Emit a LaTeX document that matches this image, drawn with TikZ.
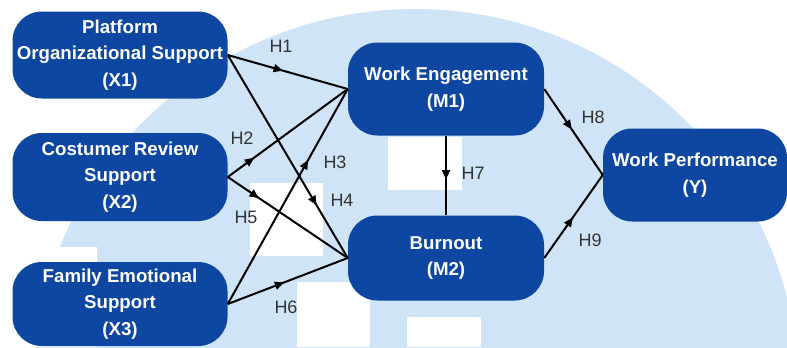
\documentclass[tikz,border=0pt]{standalone}
\usepackage{fontspec}
\setmainfont{Liberation Sans}
\usetikzlibrary{positioning, arrows.meta, decorations.markings}

\definecolor{boxblue}{HTML}{0D47A1}
\definecolor{wmblue}{HTML}{D0E4F7}
\definecolor{lblgray}{HTML}{333333}

\tikzset{
    var/.style={draw=none, fill=boxblue, rounded corners=22pt, text=white, align=center,
        font=\bfseries\fontsize{14}{19.9}\selectfont, inner sep=0pt},
    link/.style={line width=1.5pt, black},
    hyp/.style={postaction={decorate}, decoration={markings,
        mark=at position #1 with {\arrow{Triangle[length=7pt, width=6pt]}}}},
    lbl/.style={text=lblgray, font=\fontsize{13.5}{16}\selectfont, inner sep=0pt}
}

\begin{document}
\begin{tikzpicture}[x=0.75pt, y=-0.75pt]
    % background watermark
    \fill[white] (0,0) rectangle (787,347);
    \begin{scope}
        \clip (0,0) rectangle (787,347);
        \fill[wmblue] (415,393) circle[radius=384];
        \fill[white] (0,247) rectangle (97,347);
        \fill[white] (250,183) rectangle (323,256);
        \fill[white] (388,137) rectangle (462,190);
        \fill[white] (297,282) rectangle (370,347);
        \fill[white] (407,317) rectangle (481,347);
    \end{scope}
    \useasboundingbox (0,0) rectangle (787,347);

    \node[var, minimum width=161.25pt, minimum height=65.25pt] (x1) at (120,55)
        {Platform\\Organizational Support\\(X1)};
    \node[var, minimum width=161.25pt, minimum height=66pt] (x2)[below of=x1, node distance=91.5pt]
        {Costumer Review\\Support\\(X2)};
    \node[var, minimum width=161.25pt, minimum height=63pt] (x3)[below of=x2, node distance=95.25pt]
        {Family Emotional\\Support\\(X3)};
    \node[var, minimum width=147pt, minimum height=69.75pt] (m1) at (446,89)
        {Work Engagement\\(M1)};
    \node[var, minimum width=147pt, minimum height=63.75pt] (m2)[below of=m1, node distance=126.75pt]
        {Burnout\\(M2)};
    \node[var, minimum width=138pt, minimum height=69.75pt] (y) at (695,175)
        {Work Performance\\(Y)};

    \draw[link]
        (x1.east) edge[hyp=.46] (m1.west)
        (x1.east) edge[hyp=.74] (m2.west)
        (x2.east) edge[hyp=.22] (m1.west)
        (x2.east) edge[hyp=.26] (m2.west)
        (x3.east) edge[hyp=.67] (m1.west)
        (x3.east) edge[hyp=.47] (m2.west)
        (m1.south) edge[hyp=.55] (m2.north)
        (m1.east) edge[hyp=.47] (y.west)
        (m2.east) edge[hyp=.49] (y.west);

    \node[lbl] (h1) at (281,46)  {H1};
    \node[lbl] (h2) at (242,138) {H2};
    \node[lbl] (h3) at (335,162) {H3};
    \node[lbl] (h4) at (342,200) {H4};
    \node[lbl] (h5) at (246,217) {H5};
    \node[lbl] (h6) at (286,307) {H6};
    \node[lbl] (h7) at (473,173) {H7};
    \node[lbl] (h8) at (593,117) {H8};
    \node[lbl] (h9) at (590,240) {H9};

\end{tikzpicture}
\end{document}
